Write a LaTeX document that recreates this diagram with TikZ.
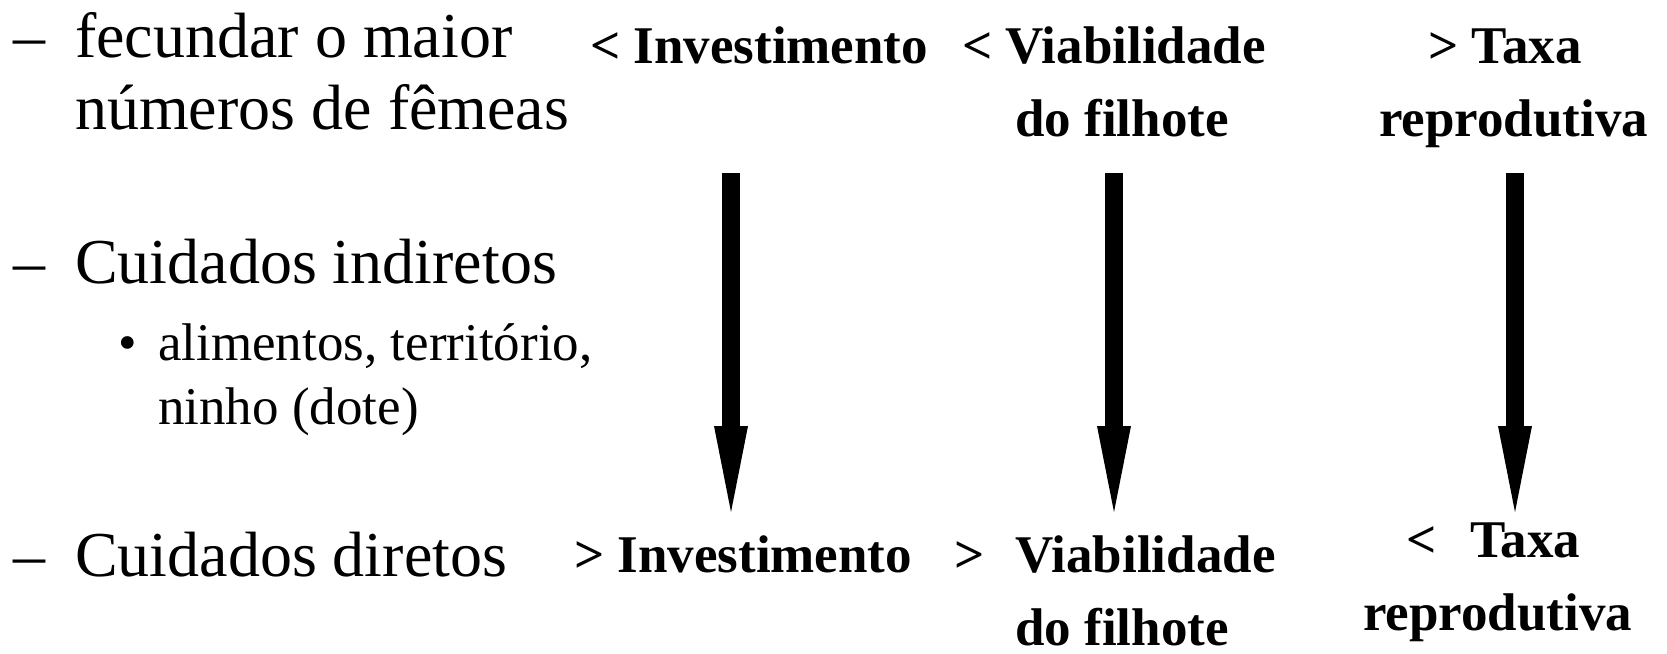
\documentclass[tikz,border=0pt]{standalone}
\usepackage{fontspec}
\setmainfont{Liberation Serif}
\usetikzlibrary{arrows.meta}

\begin{document}
\begin{tikzpicture}[x=1pt,y=-1pt,
      every node/.style={inner sep=0pt,anchor=base west},
      big/.style={font=\fontsize{64}{64}\selectfont},
      small/.style={font=\fontsize{53}{53}\selectfont},
      lbl/.style={font=\fontsize{53}{53}\selectfont\bfseries},
      fatarrow/.style={line width=18pt,-{Triangle[length=86pt,width=34pt,line width=0pt]}}
    ]
    \useasboundingbox (0,0) rectangle (1667,653);
    % left column
    \node[big] (d1) at (13,57) {–};
    \node[big] (fec) at (75,57) {fecundar o maior};
    \node[big] (num) at (75,129) {números de fêmeas};
    \node[big] (d2) at (13,283) {–};
    \node[big] (ind) at (75,283) {Cuidados indiretos};
    \node[small] (bul) at (118,360) {•};
    \node[small] (ali) at (158,360) {alimentos, território,};
    \node[small] (nin) at (158,424) {ninho (dote)};
    \node[big] (d3) at (13,576) {–};
    \node[big] (dir) at (75,576) {Cuidados diretos};
    % top labels
    \node[lbl] (inv1) at (590,63) {< Investimento};
    \node[lbl] (via1) at (962,63) {< Viabilidade};
    \node[lbl] (fil1) at (1015,136) {do filhote};
    \node[lbl] (tax1) at (1428,63) {> Taxa};
    \node[lbl] (rep1) at (1379,136) {reprodutiva};
    % bottom labels
    \node[lbl] (inv2) at (574,572) {> Investimento};
    \node[lbl] (via2) at (954,572) {>\hspace{31pt}Viabilidade};
    \node[lbl] (fil2) at (1015,645) {do filhote};
    \node[lbl] (tax2) at (1406,557) {<\hspace{34pt}Taxa};
    \node[lbl] (rep2) at (1363,630) {reprodutiva};
    % arrows
    \coordinate (a1) at (731,173);
    \coordinate (b1) at (731,512);
    \coordinate (a2) at (1114,173);
    \coordinate (b2) at (1114,512);
    \coordinate (a3) at (1515,173);
    \coordinate (b3) at (1515,512);
    \draw[fatarrow] (a1) -- (b1);
    \draw[fatarrow] (a2) -- (b2);
    \draw[fatarrow] (a3) -- (b3);
\end{tikzpicture}
\end{document}
